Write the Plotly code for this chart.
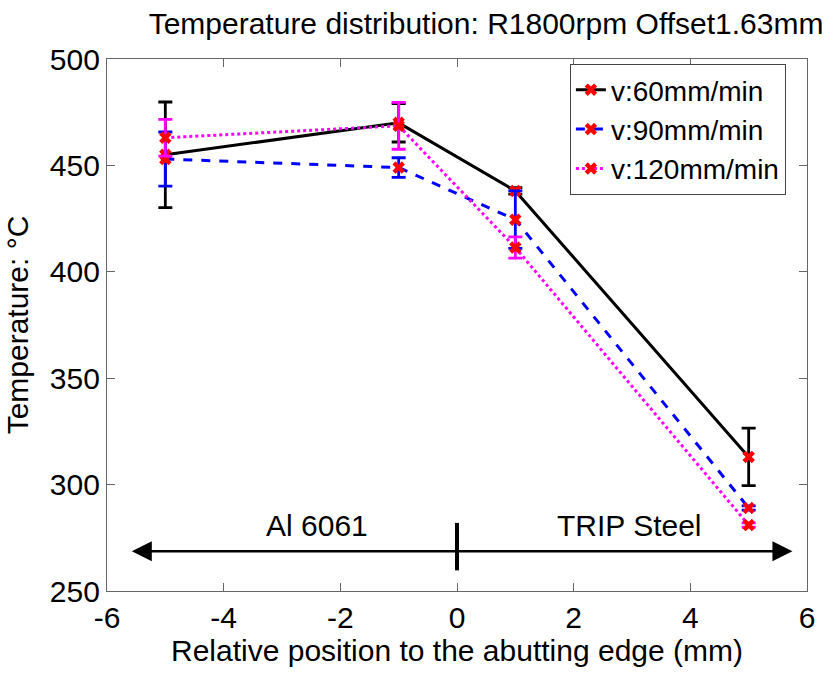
import plotly.graph_objects as go

# Measurement positions relative to the abutting edge (mm)
positions = [-5, -1, 1, 5]

# Mean peak temperatures (°C) and their spread for each traverse speed
temp_60 = [455, 470, 438, 313]
err_60 = [24.8, 9, 1.5, 13.5]
temp_90 = [453, 449, 424.5, 289]
err_90 = [12.7, 4.6, 13.5, 1]
temp_120 = [463, 468.6, 411.4, 281]
err_120 = [8.6, 11, 5, 1]

# Axis ticks (plain hyphen for negatives)
x_ticks = [-6, -4, -2, 0, 2, 4, 6]
x_tick_labels = ["-6", "-4", "-2", "0", "2", "4", "6"]
y_ticks = [250, 300, 350, 400, 450, 500]

series = [
    ("v:60mm/min", temp_60, err_60, "black", "solid"),
    ("v:90mm/min", temp_90, err_90, "blue", "dash"),
    ("v:120mm/min", temp_120, err_120, "magenta", "dot"),
]

FONT = "Liberation Sans, Arial, sans-serif"

fig = go.Figure()
for name, temps, errs, color, dash in series:
    fig.add_trace(go.Scatter(
        x=positions, y=temps, name=name, mode="lines+markers",
        line=dict(color=color, width=3, dash=dash),
        marker=dict(symbol="x", size=11, color="red", line=dict(width=0)),
        error_y=dict(type="data", array=errs, visible=True,
                     color=color, thickness=2.8, width=7),
    ))

# Material regions on either side of the joint line
arrow_y = 268.7
fig.add_annotation(x=5.75, y=arrow_y, ax=-5.6, ay=arrow_y,
                   xref="x", yref="y", axref="x", ayref="y",
                   text="", showarrow=True, arrowhead=2, startarrowhead=2,
                   arrowside="end+start", arrowsize=1.6, startarrowsize=1.6,
                   arrowwidth=2.5, arrowcolor="black")
fig.add_shape(type="line", x0=0, x1=0, y0=259.7, y1=282,
              xref="x", yref="y", line=dict(color="black", width=4))
fig.add_annotation(x=-2.4, y=281, xref="x", yref="y", text="Al 6061",
                   showarrow=False, font=dict(size=30, color="black", family=FONT))
fig.add_annotation(x=2.95, y=281, xref="x", yref="y", text="TRIP Steel",
                   showarrow=False, font=dict(size=30, color="black", family=FONT))

axis_common = dict(
    showgrid=False, zeroline=False, showline=True, linecolor="#666666",
    linewidth=1.2, mirror="ticks", ticks="inside", ticklen=8,
    tickcolor="#666666", tickwidth=1.2,
    tickfont=dict(size=30, color="black", family=FONT),
)

fig.update_layout(
    width=828, height=673,
    margin=dict(l=107, r=21, t=59, b=75),
    paper_bgcolor="white", plot_bgcolor="white",
    font=dict(family=FONT, color="black", size=30),
    title=dict(text="Temperature distribution: R1800rpm Offset1.63mm",
               x=0.587, xanchor="center", y=0.965, yanchor="middle",
               font=dict(size=30, family=FONT, color="black")),
    xaxis=dict(range=[-6, 6], tickvals=x_ticks, ticktext=x_tick_labels,
               title=dict(text="Relative position to the abutting edge (mm)",
                          font=dict(size=30), standoff=6),
               **axis_common),
    yaxis=dict(range=[250, 500], tickvals=y_ticks,
               title=dict(text="Temperature: °C", font=dict(size=30), standoff=12),
               **axis_common),
    legend=dict(x=0.661, y=0.991, xanchor="left", yanchor="top",
                bgcolor="white", bordercolor="#444444", borderwidth=1.2,
                font=dict(size=28, family=FONT, color="black"),
                itemwidth=30, tracegroupgap=0),
    showlegend=True,
)

fig.write_html("out.html")
